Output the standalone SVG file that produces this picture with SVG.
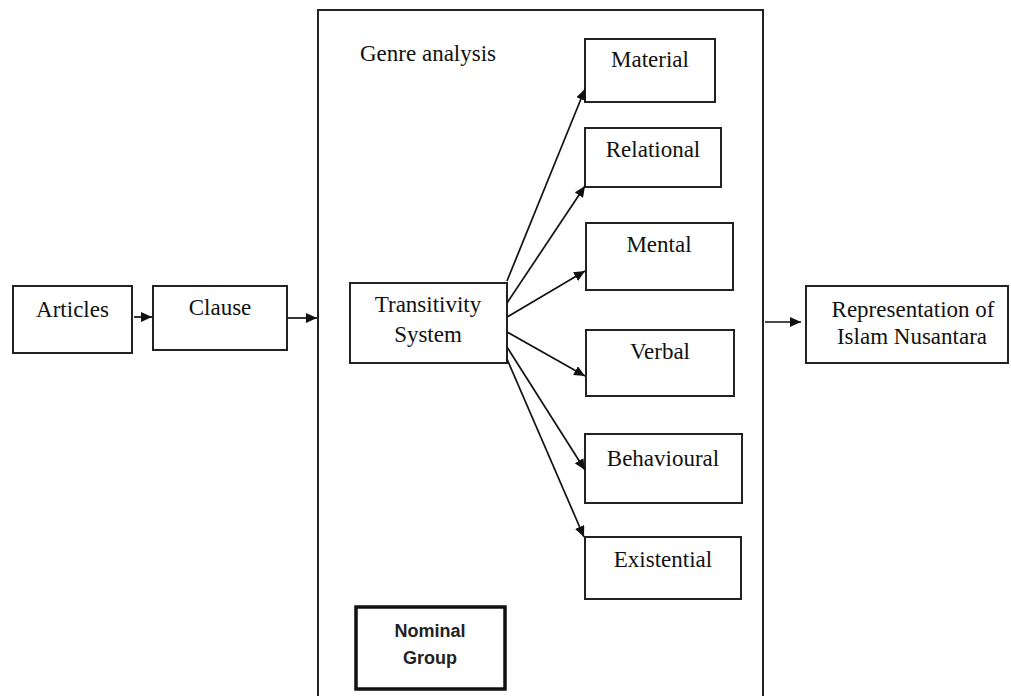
<svg xmlns="http://www.w3.org/2000/svg" width="1011" height="696" viewBox="0 0 1011 696">
<style>
.box{fill:#fff;stroke:#222;stroke-width:2}
.t{font-family:"Liberation Serif","Times New Roman",serif;font-size:23px;fill:#111;text-anchor:middle}
.ts{font-family:"Liberation Sans",Arial,sans-serif;font-size:18px;font-weight:bold;fill:#222;text-anchor:middle}
.c{stroke:#111;stroke-width:1.7;fill:none;marker-end:url(#ah)}
</style>
<defs>
<marker id="ah" markerUnits="userSpaceOnUse" markerWidth="12" markerHeight="10" refX="11" refY="5" orient="auto">
<path d="M0,0 L11,5 L0,10 Z" fill="#111"/>
</marker>
</defs>
<rect width="1011" height="696" fill="#fff"/>
<g id="frame">
<rect x="318" y="10" width="445" height="700" fill="none" stroke="#222" stroke-width="2"/>
<text class="t" x="360" y="61" style="text-anchor:start">Genre analysis</text>
</g>
<g id="articles"><rect class="box" x="13" y="286" width="119" height="67"/><text class="t" x="72.5" y="317">Articles</text></g>
<g id="clause"><rect class="box" x="153" y="286" width="134" height="64"/><text class="t" x="220" y="315">Clause</text></g>
<g id="transitivity"><rect class="box" x="350" y="283" width="157" height="80"/><text class="t" x="428" y="312">Transitivity</text><text class="t" x="428" y="342">System</text></g>
<g id="representation"><rect class="box" x="806" y="286" width="202" height="77"/><text class="t" x="913" y="317">Representation of</text><text class="t" x="912" y="344">Islam Nusantara</text></g>
<g id="material"><rect class="box" x="585" y="39" width="130" height="63"/><text class="t" x="650" y="67">Material</text></g>
<g id="relational"><rect class="box" x="585" y="128" width="136" height="59"/><text class="t" x="653" y="157">Relational</text></g>
<g id="mental"><rect class="box" x="586" y="223" width="147" height="67"/><text class="t" x="659" y="252">Mental</text></g>
<g id="verbal"><rect class="box" x="586" y="330" width="148" height="66"/><text class="t" x="660" y="359">Verbal</text></g>
<g id="behavioural"><rect class="box" x="585" y="434" width="157" height="69"/><text class="t" x="663" y="466">Behavioural</text></g>
<g id="existential"><rect class="box" x="585" y="537" width="156" height="62"/><text class="t" x="663" y="567">Existential</text></g>
<g id="nominal"><rect x="356" y="607" width="149" height="82" fill="#fff" stroke="#111" stroke-width="3.5"/><text class="ts" x="430" y="637">Nominal</text><text class="ts" x="430" y="664">Group</text></g>
<g id="connectors">
<line class="c" x1="134" y1="317" x2="152" y2="317"/>
<line class="c" x1="288" y1="318" x2="317" y2="318"/>
<line class="c" x1="765" y1="322" x2="801" y2="322"/>
<line class="c" x1="507" y1="281" x2="585" y2="89"/>
<line class="c" x1="507" y1="303" x2="585" y2="186"/>
<line class="c" x1="507" y1="317" x2="585" y2="271"/>
<line class="c" x1="507" y1="332" x2="585" y2="376"/>
<line class="c" x1="507" y1="347" x2="585" y2="470"/>
<line class="c" x1="507" y1="359" x2="584" y2="537"/>
</g>
</svg>
